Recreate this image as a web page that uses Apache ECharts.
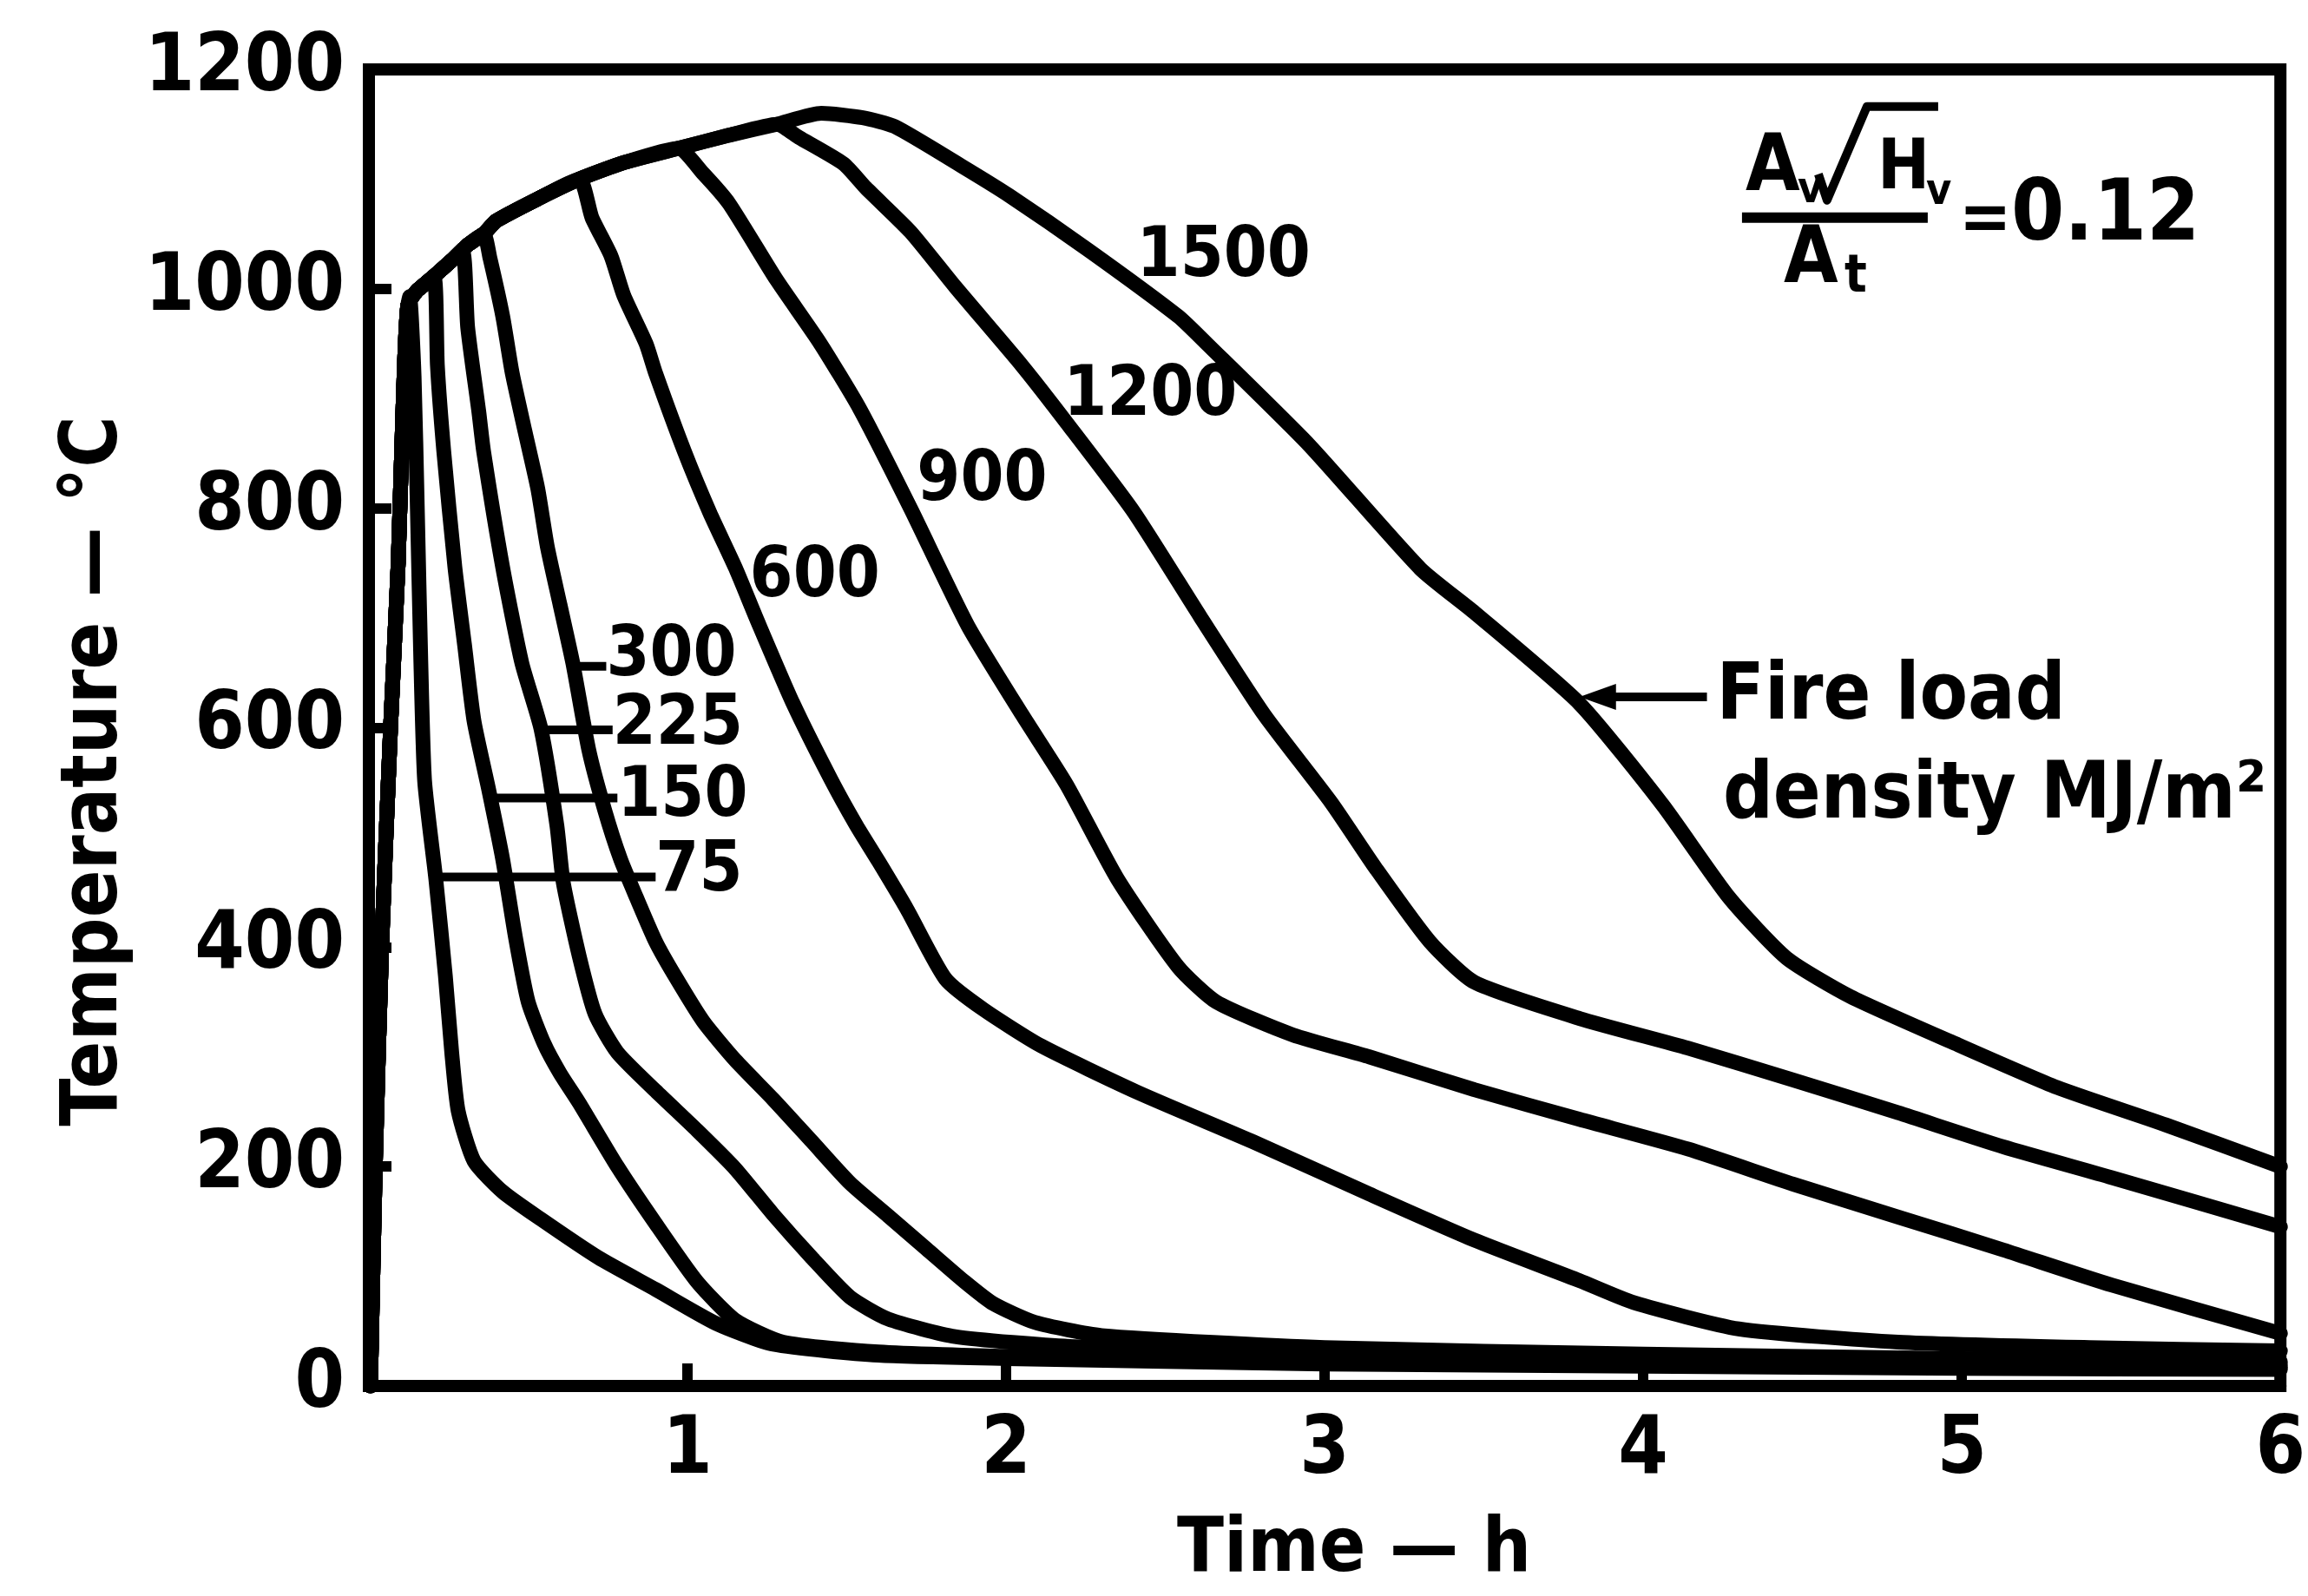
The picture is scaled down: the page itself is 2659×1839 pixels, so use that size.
<!DOCTYPE html>
<html>
<head>
<meta charset="utf-8">
<script src="https://cdn.jsdelivr.net/npm/echarts@6/dist/echarts.min.js"></script>
<style>
html,body{margin:0;padding:0;background:#fff;}
#c{width:2659px;height:1839px;}
</style>
</head>
<body>
<div id="c"></div>
<script>
// ---- axis ticks ----
const timeTicks = [0, 1, 2, 3, 4, 5, 6];
const tempTicks = [0, 200, 400, 600, 800, 1000, 1200];

// ---- shared growth phase (time h, temperature C) ----
const growthPhase = [[0.005,0],[0.02,200],[0.04,400],[0.068,600],[0.092,750],[0.108,900],[0.122,985],[0.15,998],[0.17,1003],[0.21,1013],[0.26,1026],[0.31,1040],[0.36,1050],[0.40,1062],[0.53,1082],[0.66,1100],[0.80,1115],[0.97,1128],[1.13,1140],[1.28,1150],[1.42,1160]];

// ---- decay branches, one per fire load density (MJ/m2) ----
const decay75 = [[0.128,993],[0.142,920],[0.152,800],[0.163,660],[0.175,551],[0.21,462],[0.24,374],[0.26,304],[0.28,251],[0.33,205],[0.42,177],[0.54,152],[0.72,117],[0.90,88],[1.09,57],[1.27,38],[1.6,28],[2.0,25],[3.0,20],[4.0,18],[5.0,16],[6.0,15]];
const decay150 = [[0.205,1010],[0.215,930],[0.235,852],[0.27,746],[0.30,676],[0.33,606],[0.375,545],[0.42,480],[0.46,409],[0.50,350],[0.55,312],[0.60,285],[0.66,258],[0.78,200],[0.90,148],[1.03,95],[1.15,60],[1.30,40],[1.6,31],[2.0,27],[3.0,23],[4.0,20],[5.0,18],[6.0,17]];
const decay225 = [[0.295,1033],[0.31,965],[0.345,888],[0.36,852],[0.42,746],[0.48,659],[0.54,599],[0.59,511],[0.61,459],[0.66,392],[0.71,339],[0.78,304],[0.90,269],[1.03,233],[1.15,198],[1.27,156],[1.39,117],[1.51,81],[1.63,61],[1.84,45],[2.2,36],[3.0,28],[4.0,24],[5.0,21],[6.0,19]];
const decay300 = [[0.36,1050],[0.38,1028],[0.42,975],[0.45,923],[0.49,870],[0.53,818],[0.56,765],[0.60,712],[0.64,659],[0.69,580],[0.74,525],[0.79,480],[0.84,445],[0.90,405],[0.96,374],[1.05,332],[1.15,297],[1.27,261],[1.39,223],[1.51,185],[1.63,155],[1.75,125],[1.87,95],[1.96,75],[2.09,58],[2.3,46],[3.0,35],[4.0,29],[5.0,25],[6.0,22]];
const decay600 = [[0.66,1100],[0.70,1065],[0.76,1030],[0.80,994],[0.87,950],[0.90,923],[0.99,852],[1.07,796],[1.15,746],[1.22,697],[1.33,623],[1.45,553],[1.53,511],[1.60,478],[1.69,434],[1.81,371],[1.93,343],[2.11,310],[2.41,268],[2.78,222],[3.14,175],[3.47,133],[3.80,96],[3.97,76],[4.30,52],[4.80,40],[5.4,35],[6.0,32]];
const decay900 = [[0.97,1128],[1.05,1105],[1.13,1078],[1.28,1008],[1.415,951],[1.54,891],[1.70,800],[1.88,693],[2.05,612],[2.19,548],[2.35,462],[2.54,382],[2.66,350],[2.90,320],[3.14,300],[3.47,270],[3.80,243],[4.14,216],[4.47,184],[4.80,154],[5.13,124],[5.47,92],[6.0,48]];
const decay1200 = [[1.28,1150],[1.35,1138],[1.49,1114],[1.56,1092],[1.70,1052],[1.84,1002],[2.05,930],[2.19,878],[2.40,797],[2.61,701],[2.81,612],[3.02,532],[3.16,472],[3.33,405],[3.47,368],[3.80,335],[4.14,308],[4.47,279],[4.80,249],[5.13,218],[5.47,190],[6.0,145]];
const decay1500 = [[1.42,1160],[1.55,1156],[1.65,1148],[1.86,1112],[2.01,1085],[2.26,1035],[2.54,975],[2.63,950],[2.95,858],[3.30,745],[3.47,705],[3.80,622],[4.06,530],[4.27,445],[4.45,390],[4.65,355],[4.98,312],[5.30,272],[5.64,238],[6.0,200]];

const fireLoads = ['75','150','225','300','600','900','1200','1500'];
const decays = [decay75, decay150, decay225, decay300, decay600, decay900, decay1200, decay1500];

// ---- annotations (data coordinates) ----
const curveLabels = [
  {text:'1500', at:[2.41,1028]}, {text:'1200', at:[2.18,902]},
  {text:'900', at:[1.72,824]},   {text:'600', at:[1.195,736]},
  {text:'300', at:[0.745,664]},  {text:'225', at:[0.765,602]},
  {text:'150', at:[0.78,536]},   {text:'75', at:[0.90,468]}
];
const leaders = [
  [[0.655,656],[0.745,656]],
  [[0.54,598],[0.765,598]],
  [[0.375,536],[0.78,536]],
  [[0.21,464],[0.90,464]]
];
const fireArrow = [[4.20,628],[3.80,628]];
const fireText = [{text:'Fire load', at:[4.23,627]}, {text:'density MJ/m²', at:[4.25,537]}];
const formulaAnchor = [4.31,1065];

const FC = '"DejaVu Sans Condensed","DejaVu Sans","Liberation Sans",sans-serif';

const chart = echarts.init(document.getElementById('c'), null, {renderer:'canvas', width:2659, height:1839});

const series = fireLoads.map((name, i) => {
  const d = decays[i];
  return {
    name: name, type: 'line',
    data: growthPhase.filter(p => p[0] < d[0][0]).concat(d),
    showSymbol: false, symbol: 'none',
    smooth: 0.2,
    lineStyle: {color:'#000', width:17, cap:'round', join:'round'},
    silent: true
  };
});

chart.setOption({
  animation: false,
  backgroundColor: '#fff',
  grid: {left:425, right:27, top:80, bottom:242, show:true, borderColor:'#000', borderWidth:14, backgroundColor:'transparent'},
  xAxis: {
    type:'value', min:timeTicks[0], max:timeTicks[timeTicks.length-1], interval:1,
    axisLine:{show:true, lineStyle:{color:'#000', width:14}},
    axisTick:{show:true, inside:true, length:26, lineStyle:{color:'#000', width:12}},
    splitLine:{show:false},
    axisLabel:{formatter: v => (v === 0 ? '' : String(v)), fontSize:92, fontWeight:'bold', fontFamily:FC, color:'#000', margin:30},
    name:'Time — h', nameLocation:'middle', nameGap:146,
    nameTextStyle:{fontSize:88, fontWeight:'bold', fontFamily:FC, color:'#000', padding:[0,0,0,68]}
  },
  yAxis: {
    type:'value', min:tempTicks[0], max:tempTicks[tempTicks.length-1], interval:200,
    axisLine:{show:true, lineStyle:{color:'#000', width:14}},
    axisTick:{show:true, inside:true, length:26, lineStyle:{color:'#000', width:12}},
    splitLine:{show:false},
    axisLabel:{formatter: v => String(v), fontSize:92, fontWeight:'bold', fontFamily:FC, color:'#000', margin:28},
    name:'Temperature — °C', nameLocation:'middle', nameGap:262, nameRotate:90,
    nameTextStyle:{fontSize:90, fontWeight:'bold', fontFamily:FC, color:'#000', padding:[0,100,0,0]}
  },
  series: series
});

const px = (p) => chart.convertToPixel({gridIndex:0}, p);
const g = [];
curveLabels.forEach(l => {
  const p = px(l.at);
  g.push({type:'text', x:p[0], y:p[1], style:{text:l.text, fontSize:80, fontWeight:'bold', fontFamily:FC, fill:'#000', align:'left', verticalAlign:'middle'}});
});
leaders.forEach(seg => {
  const a = px(seg[0]), b = px(seg[1]);
  g.push({type:'line', shape:{x1:a[0], y1:a[1], x2:b[0], y2:b[1]}, style:{stroke:'#000', lineWidth:10}});
});
{
  const a = px(fireArrow[0]), b = px(fireArrow[1]);
  g.push({type:'line', shape:{x1:a[0], y1:a[1], x2:b[0]+20, y2:b[1]}, style:{stroke:'#000', lineWidth:10}});
  g.push({type:'polygon', shape:{points:[[b[0],b[1]],[b[0]+42,b[1]-15],[b[0]+42,b[1]+15]]}, style:{fill:'#000'}});
}
fireText.forEach(l => {
  const p = px(l.at);
  g.push({type:'text', x:p[0], y:p[1], style:{text:l.text, fontSize:90, fontWeight:'bold', fontFamily:FC, fill:'#000', align:'left', verticalAlign:'middle'}});
});
{
  const P = px(formulaAnchor);
  const X = P[0], Y = P[1];
  const t = (txt, dx, dy, size, va) => g.push({type:'text', x:X+dx, y:Y+dy, style:{text:txt, fontSize:size, fontWeight:'bold', fontFamily:FC, fill:'#000', align:'left', verticalAlign:va||'bottom'}});
  t('A', 4, -10, 90);
  t('v', 64, -6, 50);
  g.push({type:'polyline', shape:{points:[[X+88,Y-50],[X+98,Y-20],[X+144,Y-128],[X+226,Y-128]]}, style:{stroke:'#000', lineWidth:10, fill:null, lineJoin:'round'}});
  t('H', 156, -14, 80);
  t('v', 212, -4, 50);
  g.push({type:'line', shape:{x1:X, y1:Y, x2:X+214, y2:Y}, style:{stroke:'#000', lineWidth:12}});
  t('A', 48, 6, 90, 'top');
  t('t', 118, 40, 60, 'top');
  t('=', 250, 6, 80, 'middle');
  t('0.12', 310, 0, 98, 'middle');
}
chart.setOption({graphic: g});
</script>
</body>
</html>
